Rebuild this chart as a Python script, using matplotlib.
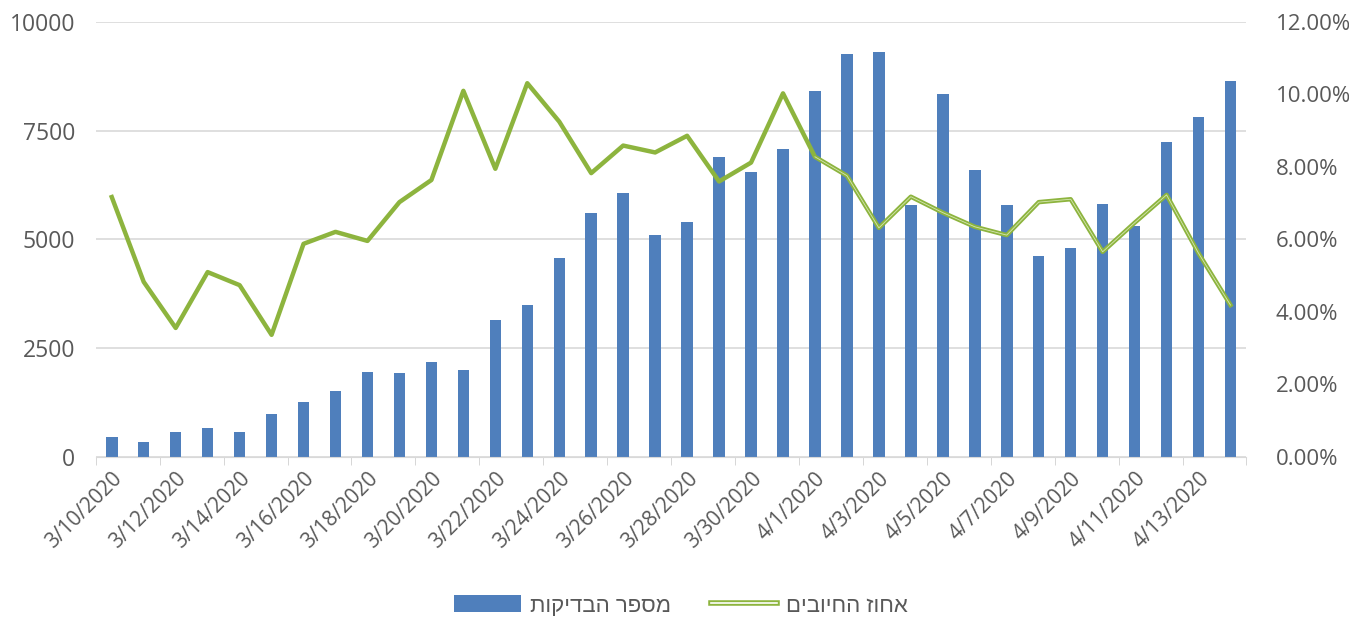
import matplotlib.pyplot as plt
import numpy as np
from matplotlib.lines import Line2D
from matplotlib.patches import Patch
from matplotlib.legend_handler import HandlerTuple
from matplotlib.ticker import FuncFormatter

# dates 3/10/2020 .. 4/14/2020
dates = [f"3/{d}/2020" for d in range(10, 32)] + [f"4/{d}/2020" for d in range(1, 15)]

tests = [470, 350, 570, 670, 580, 980, 1270, 1520, 1950, 1920, 2180, 2000,
         3150, 3490, 4580, 5620, 6060, 5100, 5400, 6900, 6550, 7070,
         8420, 9260, 9310, 5790, 8350, 6600, 5790, 4620, 4800, 5810,
         5300, 7230, 7820, 8650]

positive_pct = [7.17, 4.83, 3.56, 5.10, 4.74, 3.37, 5.88, 6.21, 5.96, 7.03, 7.64, 10.10,
                7.95, 10.31, 9.25, 7.83, 8.59, 8.40, 8.86, 7.60, 8.12, 10.03,
                8.28, 7.76, 6.32, 7.18, 6.74, 6.35, 6.12, 7.03, 7.11, 5.66,
                6.46, 7.23, 5.62, 4.19]

label_tests = "מספר הבדיקות"
label_pct = "אחוז החיובים"

bar_color = "#4F7FBC"
line_color = "#8DB43E"
text_color = "#595959"

plt.rcParams['font.family'] = ['Open Sans', 'DejaVu Sans']

fig = plt.figure(figsize=(13.49, 6.18), dpi=100)
ax = fig.add_axes([0.071, 0.2605, 0.853, 0.704])
ax2 = ax.twinx()

x = np.arange(len(dates))
ax.bar(x, tests, width=0.36, color=bar_color, zorder=2)
ax.set_ylim(0, 10000)
ax.set_yticks([0, 2500, 5000, 7500, 10000])
ax.set_xlim(-0.5, len(dates) - 0.5)
ax.grid(axis='y', color='#d9d9d9', linewidth=1.2, zorder=0)
ax.set_axisbelow(True)

ax.set_xticks(x[::2])
ax.set_xticklabels(dates[::2], rotation=45, ha='right', rotation_mode='anchor',
                   fontsize=15, color=text_color)
ax.set_xticks(np.arange(-0.5, len(dates), 2), minor=True)
ax.tick_params(axis='x', which='major', length=0, pad=8)
ax.tick_params(axis='x', which='minor', length=6, color='#d0d0d0')
ax.tick_params(axis='y', length=0, labelsize=16.5, labelcolor=text_color, pad=15)

ax2.plot(x, positive_pct, color=line_color, linewidth=3.2, zorder=3)
# later part of the series shows a thin light core in the original
ax2.plot(x[22:], positive_pct[22:], color='#d6e6b4', linewidth=0.6, zorder=4)
ax2.set_ylim(0, 12)
ax2.set_yticks(np.arange(0, 13, 2))
ax2.yaxis.set_major_formatter(FuncFormatter(lambda v, p: f"{v:.2f}%"))
ax2.tick_params(axis='y', length=0, labelsize=16, labelcolor=text_color, pad=21)

for a in (ax, ax2):
    for s in ('top', 'left', 'right'):
        a.spines[s].set_visible(False)
    a.spines['bottom'].set_color('#d9d9d9')
ax2.spines['bottom'].set_visible(False)

# matplotlib has no bidi support, so reverse the Hebrew labels for display
h_bar = Patch(facecolor=bar_color, edgecolor='none')
h_line = (Line2D([], [], color=line_color, linewidth=4),
          Line2D([], [], color='white', linewidth=1.2))
fig.legend([h_bar, h_line], [label_tests[::-1], label_pct[::-1]],
           handler_map={tuple: HandlerTuple(ndivide=1)},
           loc='lower center', bbox_to_anchor=(0.505, -0.03), ncol=2, frameon=False,
           handlelength=3.0, handleheight=0.8, handletextpad=0.4, columnspacing=1.8,
           prop={'family': ['Liberation Sans', 'DejaVu Sans'], 'size': 16},
           labelcolor=text_color)

fig.savefig('out.png', dpi=100)
